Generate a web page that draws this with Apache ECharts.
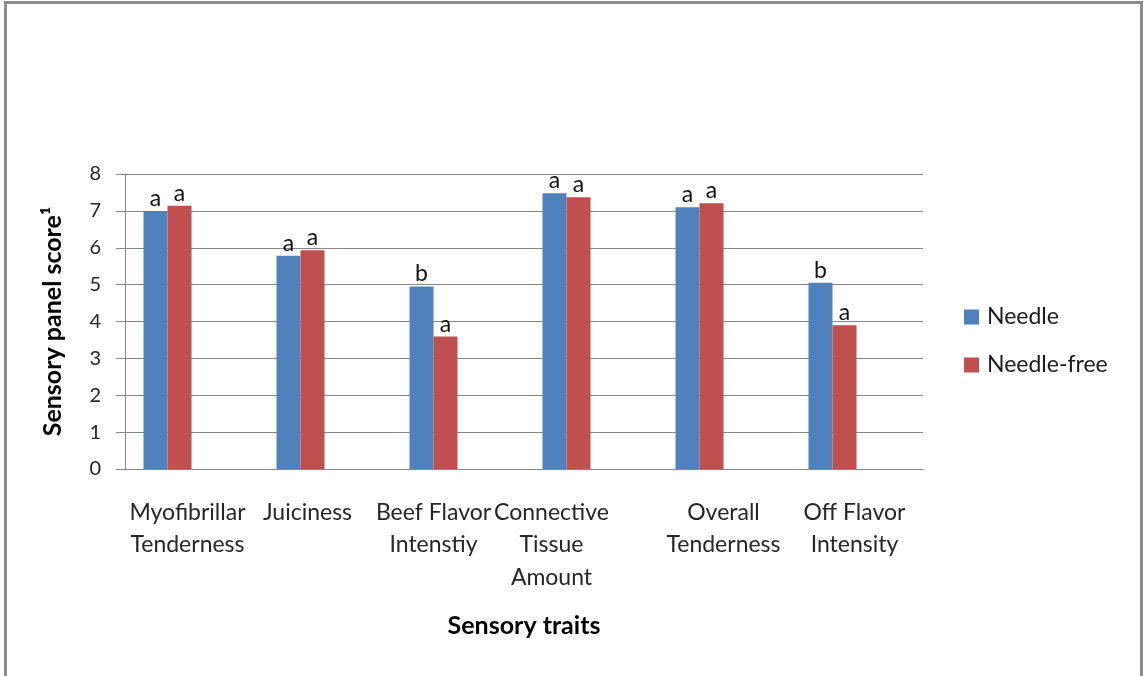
<!DOCTYPE html>
<html>
<head>
<meta charset="utf-8">
<title>Sensory panel scores</title>
<script src="https://cdn.jsdelivr.net/npm/echarts@6/dist/echarts.min.js"></script>
<style>
  html, body { margin: 0; padding: 0; background: #ffffff; }
  #chart { position: absolute; left: 0; top: 0; width: 1144px; height: 676px; }
  #frame {
    position: absolute; left: 4px; top: 1px; width: 1139px; height: 720px;
    box-sizing: border-box; border: 3px solid #8c8c8c; pointer-events: none;
  }
</style>
</head>
<body>
<div id="chart"></div>
<div id="frame"></div>
<script>
// Sensory traits (category axis)
const traits = [
  'Myofibrillar\nTenderness',
  'Juiciness',
  'Beef Flavor\nIntenstiy',
  'Connective\nTissue\nAmount',
  'Overall\nTenderness',
  'Off Flavor\nIntensity'
];

// Mean panel scores per treatment
const needle     = [7.00, 5.78, 4.95, 7.48, 7.10, 5.05];
const needleFree = [7.14, 5.93, 3.59, 7.37, 7.21, 3.90];

// Significance letters shown above each bar
const needleLetters     = ['a', 'a', 'b', 'a', 'a', 'b'];
const needleFreeLetters = ['a', 'a', 'a', 'a', 'a', 'a'];

// Value axis ticks
const yTicks = [0, 1, 2, 3, 4, 5, 6, 7, 8];

// Layout: horizontal nudge (px, leftwards) of each category label
const labelNudge = [4, 17, 24, 39, 0, 2];

const FONT = 'Lato, "Open Sans", sans-serif';
const BLUE = '#4F81BD';
const RED = '#C0504D';
const GRID_GRAY = '#878787';

const rich = {};
labelNudge.forEach((n, i) => {
  rich['c' + i] = {
    fontFamily: FONT, fontSize: 23, color: '#262626', lineHeight: 32.5,
    padding: [0, 2 * n, 0, 0]
  };
});

function letterLabel(letters) {
  return {
    show: true,
    position: 'top',
    distance: 1,
    fontFamily: FONT,
    fontSize: 23,
    color: '#111111',
    formatter: p => letters[p.dataIndex]
  };
}

const chart = echarts.init(document.getElementById('chart'), null, { renderer: 'canvas' });

chart.setOption({
  animation: false,
  backgroundColor: '#ffffff',
  textStyle: { fontFamily: FONT },
  grid: {
    left: 125, right: 221, top: 174, bottom: 207,
    containLabel: false, outerBoundsMode: 'none'
  },
  legend: {
    orient: 'vertical',
    left: 959, top: 300,
    data: ['Needle', 'Needle-free'],
    icon: 'rect',
    itemWidth: 15, itemHeight: 15,
    itemGap: 24,
    textStyle: { fontFamily: FONT, fontSize: 23, color: '#1a1a1a', lineHeight: 24, padding: [0, 0, 0, 3] }
  },
  xAxis: {
    type: 'category',
    data: traits,
    name: 'Sensory traits',
    nameLocation: 'middle',
    nameGap: 144,
    nameTextStyle: { fontFamily: FONT, fontSize: 25, fontWeight: 'bold', color: '#000000' },
    axisLine: { show: true, lineStyle: { color: GRID_GRAY, width: 1 } },
    axisTick: { show: false },
    axisLabel: {
      interval: 0,
      margin: 27,
      rich: rich,
      formatter: (value, idx) => value.split('\n').map(s => '{c' + idx + '|' + s + '}').join('\n')
    },
    splitLine: { show: false }
  },
  yAxis: {
    type: 'value',
    min: yTicks[0],
    max: yTicks[yTicks.length - 1],
    interval: 1,
    name: 'Sensory panel score\u00B9',
    nameLocation: 'middle',
    nameGap: 60,
    nameTextStyle: { fontFamily: FONT, fontSize: 25, fontWeight: 'bold', color: '#000000' },
    axisLine: { show: true, lineStyle: { color: GRID_GRAY, width: 1 } },
    axisTick: { show: true, length: 9, lineStyle: { color: GRID_GRAY } },
    axisLabel: {
      margin: 24,
      fontFamily: FONT, fontSize: 20, color: '#262626',
      formatter: v => (yTicks.includes(v) ? String(v) : '')
    },
    splitLine: { show: true, lineStyle: { color: GRID_GRAY, width: 1 } }
  },
  series: [
    {
      name: 'Needle', type: 'bar', data: needle,
      barWidth: 24, barGap: '0%',
      itemStyle: { color: BLUE },
      label: letterLabel(needleLetters)
    },
    {
      name: 'Needle-free', type: 'bar', data: needleFree,
      barWidth: 24, barGap: '0%',
      itemStyle: { color: RED },
      label: letterLabel(needleFreeLetters)
    },
    // two empty slots keep the pair to the left of each category centre
    { name: 'slot3', type: 'bar', data: traits.map(() => null), barWidth: 24, barGap: '0%', silent: true },
    { name: 'slot4', type: 'bar', data: traits.map(() => null), barWidth: 24, barGap: '0%', silent: true }
  ]
});
</script>
</body>
</html>
